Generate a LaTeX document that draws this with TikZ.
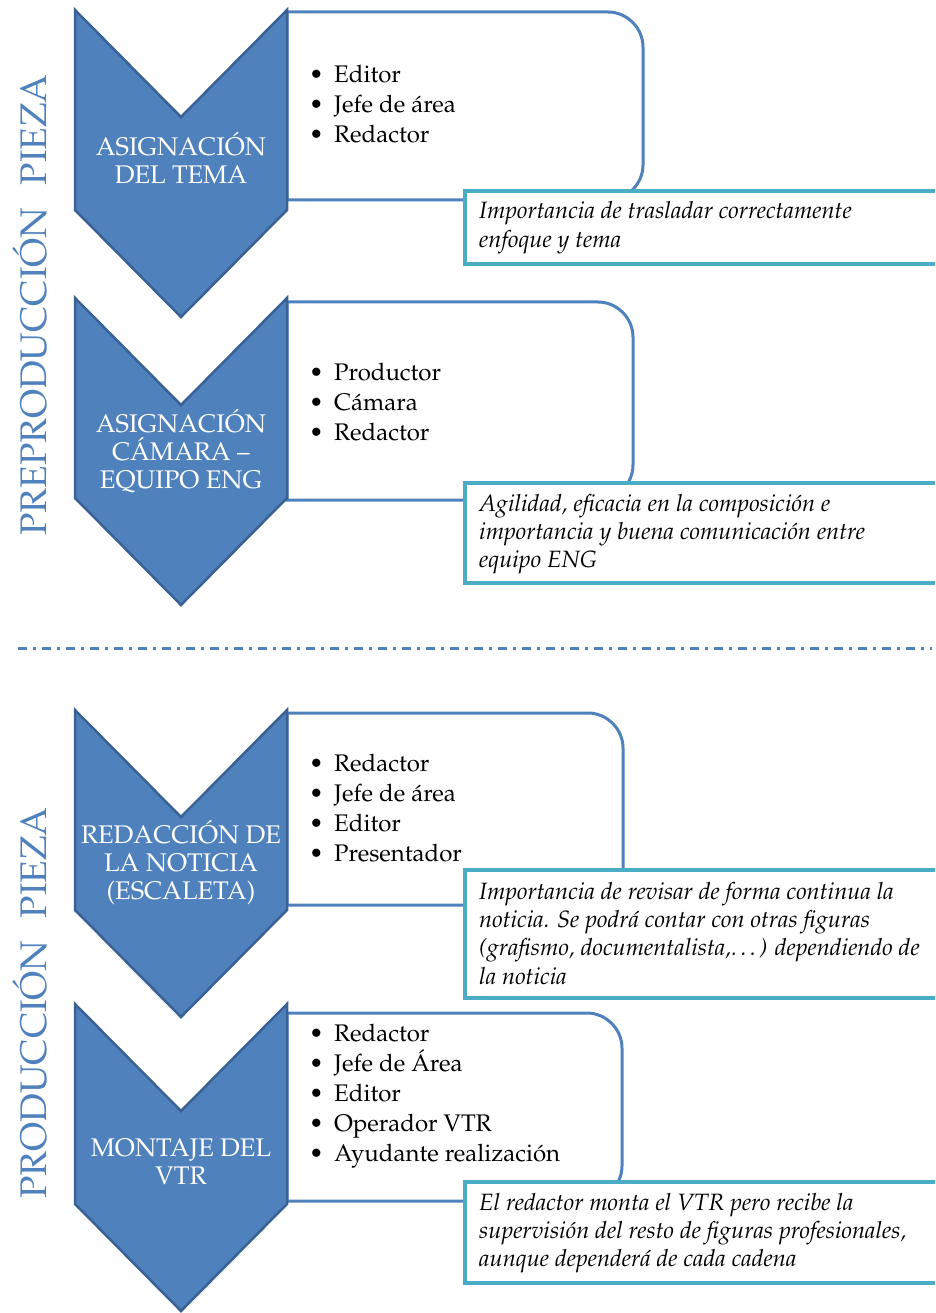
\documentclass[tikz,border=0pt]{standalone}
\usepackage[T1]{fontenc}
\renewcommand{\rmdefault}{ppl}
\definecolor{chevfill}{HTML}{4F81BD}
\definecolor{chevedge}{HTML}{3A6194}
\definecolor{frameblue}{HTML}{4F81BD}
\definecolor{noteteal}{HTML}{4BACC6}
\newcommand{\bul}{\makebox[25pt][l]{\textbullet}}
% chevron whose top corners sit at height #1
\newcommand{\chevshape}[1]{%
  \path[chevron] (75,#1) -- (181,{#1+107}) -- (287,#1) -- (287,{#1+200})
    -- (181,{#1+307}) -- (75,{#1+200}) -- cycle;}
% list frame: top #1, bottom #2, right edge #3, rounded on the right side
\newcommand{\listframe}[3]{%
  \path[listbox] (287,#1) -- ({#3-35},#1) .. controls ({#3-16},#1) and (#3,{#1+16}) .. (#3,{#1+35})
    -- (#3,{#2-35}) .. controls (#3,{#2-16}) and ({#3-16},#2) .. ({#3-35},#2) -- (287,#2) -- cycle;}
\begin{document}
% multi-line nodes are placed by the baseline of their last line
\begin{tikzpicture}[x=1pt,y=-1pt,
  chevron/.style={fill=chevfill,draw=chevedge,line width=2.5pt,line join=miter},
  listbox/.style={draw=frameblue,fill=white,line width=3pt},
  notebox/.style={draw=noteteal,fill=white,line width=4pt},
  chevtext/.style={text=white,align=center,anchor=base,inner sep=0pt,font=\fontsize{25.5}{28}\selectfont},
  listtext/.style={align=left,anchor=base west,inner sep=0pt,font=\fontsize{24}{30}\selectfont},
  notetext/.style={align=left,anchor=base west,inner sep=0pt,font=\itshape\fontsize{23.6}{28.4}\selectfont},
  sidetitle/.style={rotate=90,anchor=base,inner sep=0pt,text=chevfill,font=\fontsize{37}{40}\selectfont},
  divider/.style={draw=frameblue,line width=3pt,dash pattern=on 9pt off 6pt on 3pt off 6pt}]
\useasboundingbox (0,0) rectangle (935,1313);
\clip (0,0) rectangle (935,1313);

% ---- side titles
\node[sidetitle] (pre) at (46,305) {PREPRODUCCI\'ON\hspace{0.6em}PIEZA};
\node[sidetitle] (pro) at (46,1003) {PRODUCCI\'ON\hspace{0.6em}PIEZA};

% ---- step 1
\listframe{12}{200}{643}
\chevshape{10}
\path[notebox] (465,191) rectangle (945,264);
\node[chevtext] (c1) at (181,184) {ASIGNACI\'ON\\DEL TEMA};
\node[listtext] (l1) at (309,143) {\bul Editor\\\bul Jefe de \'area\\\bul Redactor};
\node[notetext] (n1) at (479,247.4) {Importancia de trasladar correctamente\\enfoque y tema};

% ---- step 2
\listframe{302}{500}{633}
\chevshape{298}
\path[notebox] (465,483) rectangle (945,583);
\node[chevtext] (c2) at (181,488) {ASIGNACI\'ON\\C\'AMARA --\\EQUIPO ENG};
\node[listtext] (l2) at (309,440) {\bul Productor\\\bul C\'amara\\\bul Redactor};
\node[notetext] (n2) at (479,567.8) {Agilidad, eficacia en la composici\'on e\\importancia y buena comunicaci\'on entre\\equipo ENG};

% ---- divider
\coordinate (dl) at (18,648);
\coordinate (dr) at (932,648);
\draw[divider] (dl) -- (dr);

% ---- step 3
\listframe{713}{905}{623}
\chevshape{710}
\path[notebox] (465,870) rectangle (945,998);
\node[chevtext] (c3) at (181,899) {REDACCI\'ON DE\\LA NOTICIA\\(ESCALETA)};
\node[listtext] (l3) at (309,861) {\bul Redactor\\\bul Jefe de \'area\\\bul Editor\\\bul Presentador};
\node[notetext] (n3) at (479,984.2) {Importancia de revisar de forma continua la\\noticia. Se podr\'a contar con otras figuras\\(grafismo, documentalista,\ldots) dependiendo de\\la noticia};

% ---- step 4
\listframe{1013}{1201}{622}
\chevshape{1004}
\path[notebox] (465,1182) rectangle (945,1283);
\node[chevtext] (c4) at (181,1184) {MONTAJE DEL\\VTR};
\node[listtext] (l4) at (309,1161) {\bul Redactor\\\bul Jefe de \'Area\\\bul Editor\\\bul Operador VTR\\\bul Ayudante realizaci\'on};
\node[notetext] (n4) at (479,1266.8) {El redactor monta el VTR pero recibe la\\supervisi\'on del resto de figuras profesionales,\\aunque depender\'a de cada cadena};
\end{tikzpicture}
\end{document}
